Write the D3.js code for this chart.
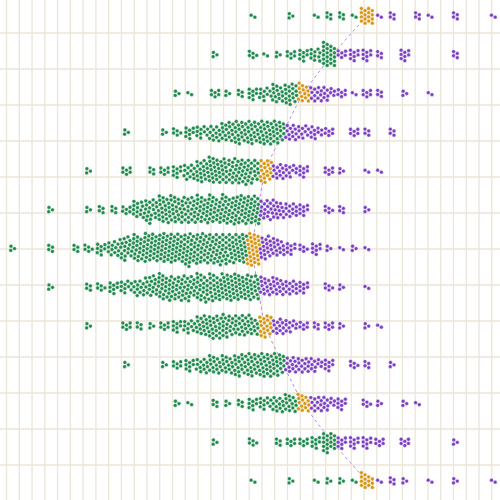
<!DOCTYPE html>
<html>
<head>
<meta charset="utf-8">
<script src="https://cdn.jsdelivr.net/npm/d3@7"></script>
<style>
  body { margin: 0; background: #fff; }
  svg { display: block; }
</style>
</head>
<body>
<svg id="chart" width="500" height="500"></svg>
<script>
// Dot counts per bin (bin index 0..39) for each of the 13 rows, top to bottom.
var row01 = {20: 2, 23: 3, 25: 2, 26: 4, 27: 4, 28: 2, 29: 16, 30: 2, 31: 4, 33: 4, 34: 2, 36: 4, 39: 2};
var row02 = {17: 3, 20: 5, 21: 2, 22: 3, 23: 6, 24: 8, 25: 10, 26: 22, 27: 6, 28: 8, 29: 8, 30: 4, 32: 8, 36: 4};
var row03 = {14: 3, 15: 2, 17: 6, 18: 3, 19: 4, 20: 8, 21: 10, 22: 14, 23: 18, 24: 14, 25: 12, 26: 10, 27: 6, 28: 2, 29: 6, 30: 4, 32: 3, 34: 2};
var row04 = {10: 3, 13: 3, 14: 5, 15: 8, 16: 10, 17: 12, 18: 16, 19: 18, 20: 18, 21: 20, 22: 18, 23: 12, 24: 10, 25: 10, 26: 6, 28: 6, 29: 4, 31: 4};
var row05 = {7: 3, 10: 6, 12: 4, 13: 6, 14: 8, 15: 12, 16: 18, 17: 22, 18: 20, 19: 20, 20: 18, 21: 18, 22: 12, 23: 10, 24: 8, 26: 6, 27: 3, 29: 2, 30: 2};
var row06 = {4: 3, 7: 3, 8: 4, 9: 4, 10: 6, 11: 14, 12: 18, 13: 22, 14: 22, 15: 20, 16: 22, 17: 22, 18: 22, 19: 24, 20: 24, 21: 16, 22: 14, 23: 12, 24: 8, 26: 5, 27: 4, 29: 3};
var row07 = {1: 3, 4: 4, 6: 4, 7: 5, 8: 8, 9: 12, 10: 18, 11: 22, 12: 24, 13: 24, 14: 24, 15: 26, 16: 24, 17: 24, 18: 24, 19: 24, 20: 28, 21: 18, 22: 14, 23: 8, 24: 5, 25: 8, 26: 3, 27: 2, 28: 3, 29: 2};
var row08 = {4: 3, 7: 4, 8: 5, 9: 8, 10: 10, 11: 12, 12: 16, 13: 22, 14: 20, 15: 18, 16: 22, 17: 22, 18: 22, 19: 22, 20: 20, 21: 14, 22: 14, 23: 12, 24: 8, 26: 5, 27: 3, 29: 2};
var row09 = {7: 3, 10: 6, 11: 4, 12: 3, 13: 6, 14: 8, 15: 10, 16: 16, 17: 20, 18: 18, 19: 16, 20: 14, 21: 18, 22: 12, 23: 10, 24: 6, 25: 4, 26: 6, 27: 3, 29: 3, 30: 2};
var row10 = {10: 3, 13: 3, 14: 6, 15: 8, 16: 12, 17: 14, 18: 14, 19: 18, 20: 18, 21: 20, 22: 18, 23: 12, 24: 12, 25: 10, 26: 8, 28: 5, 29: 4, 31: 3};
var row11 = {14: 3, 15: 2, 17: 4, 18: 3, 19: 4, 20: 8, 21: 10, 22: 12, 23: 14, 24: 14, 25: 12, 26: 10, 27: 8, 29: 5, 30: 3, 32: 3, 33: 2};
var row12 = {17: 3, 20: 5, 22: 4, 23: 6, 24: 6, 25: 8, 26: 18, 27: 8, 28: 8, 29: 8, 30: 6, 32: 6, 36: 3};
var row13 = {20: 2, 23: 3, 25: 2, 26: 3, 27: 3, 28: 2, 29: 14, 30: 2, 31: 4, 32: 3, 34: 2, 36: 3, 39: 2};

var rows = [row01, row02, row03, row04, row05, row06, row07, row08, row09, row10, row11, row12, row13];
// Highlighted (median) bin per row, or null, and last bin of the low group.
var medianBins = [29, null, 24, null, 21, null, 20, null, 21, null, 24, null, 29];
var lastLowBins = [28, 26, 23, 22, 20, 20, 19, 20, 20, 22, 23, 26, 28];
// Line through the centre of each row.
var centreBins = [29, 26.3, 24, 22.4, 21, 20.4, 20, 20.4, 21, 22.4, 24, 26.3, 29];

var width = 500, height = 500, r = 1.9;
var svg = d3.select('#chart');

var x = d3.scaleLinear().domain([0, 40]).range([0, 506]);
var y = d3.scalePoint().domain(d3.range(13)).range([16, 481]);

// Grid.
var gx = d3.range(39).map(function(k) { return 6.5 + 12.77 * k; });
var gy = d3.range(13).map(function(k) { return 33 + 36 * k; });
svg.append('g').selectAll('line').data(gx).enter().append('line')
  .attr('x1', function(d) { return d; }).attr('x2', function(d) { return d; })
  .attr('y1', 0).attr('y2', height)
  .attr('stroke', '#ebe5da').attr('stroke-width', 1.3);
svg.append('g').selectAll('line').data(gy).enter().append('line')
  .attr('y1', function(d) { return d; }).attr('y2', function(d) { return d; })
  .attr('x1', 0).attr('x2', width)
  .attr('stroke', '#ebe5da').attr('stroke-width', 1.3);

// Build nodes and relax each row into a swarm.
var nodes = [];
rows.forEach(function(row, ri) {
  var rowNodes = [];
  Object.keys(row).forEach(function(k) {
    var bin = +k, n = row[k];
    var cols = n <= 4 ? 2 : (n <= 9 ? 3 : 4);
    for (var i = 0; i < n; i++) {
      var color = bin === medianBins[ri] ? '#d8950f' :
          (bin <= lastLowBins[ri] ? '#1f8a4d' : '#7b40c2');
      var c = i % cols, l = Math.floor(i / cols);
      var dx = (c - (cols - 1) / 2) * 3.3;
      var dy = (l % 2 ? -1 : 1) * Math.ceil(l / 2) * 3.4 + (c % 2 ? 1.7 : 0);
      rowNodes.push({
        tx: x(bin) + dx, ty: y(ri), color: color,
        x: x(bin) + dx, y: y(ri) + dy
      });
    }
  });
  var sim = d3.forceSimulation(rowNodes)
    .force('x', d3.forceX(function(d) { return d.tx; }).strength(0.22))
    .force('y', d3.forceY(function(d) { return d.ty; }).strength(0.025))
    .force('collide', d3.forceCollide(r + 0.2).iterations(3))
    .stop();
  for (var t = 0; t < 300; t++) sim.tick();
  nodes = nodes.concat(rowNodes);
});

// Dashed centre line.
var line = d3.line()
  .x(function(d) { return x(d); })
  .y(function(d, i) { return y(i); })
  .curve(d3.curveCatmullRom);
svg.append('path')
  .attr('d', line(centreBins))
  .attr('fill', 'none')
  .attr('stroke', '#b48ee6')
  .attr('stroke-width', 1)
  .attr('stroke-dasharray', '3,3');

svg.append('g').selectAll('circle').data(nodes).enter().append('circle')
  .attr('cx', function(d) { return d.x; })
  .attr('cy', function(d) { return d.y; })
  .attr('r', r)
  .attr('fill', function(d) { return d.color; })
  .attr('stroke', '#fff')
  .attr('stroke-width', 0.4);
</script>
</body>
</html>
